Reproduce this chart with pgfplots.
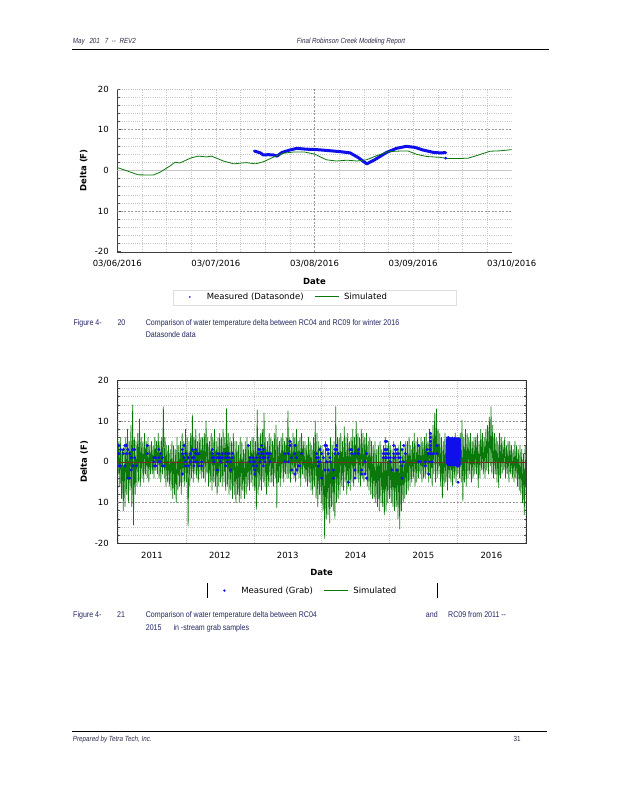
\documentclass[border=0pt]{standalone}
\usepackage{fontspec}
\setmainfont{DejaVu Sans}
\newfontfamily\capfont{Liberation Sans}[FakeStretch=0.85]
\usepackage{pgfplots}
\pgfplotsset{compat=1.18}
\usepackage{pgfplotstable}
\definecolor{simgreen}{RGB}{10,120,10}
\definecolor{measblue}{RGB}{15,15,235}
\definecolor{capcol}{RGB}{35,40,100}
\definecolor{hdrcol}{RGB}{45,45,75}
\definecolor{zeroline}{RGB}{115,45,35}
\tikzset{gridminor/.style={gray!50, dash pattern=on 1pt off 1.2pt, line width=0.4pt},
         gridmajor/.style={gray!80, dash pattern=on 2pt off 1.5pt, line width=0.5pt},
         hdr/.style={font=\capfont\itshape\fontsize{7.4}{9}\selectfont, text=hdrcol, inner sep=0pt, anchor=base west},
         captxt/.style={font=\capfont\fontsize{8.3}{10}\selectfont, text=capcol, inner sep=0pt, anchor=base west}}
\pgfplotsset{chartbase/.style={
    scale only axis,
    ymin=-20, ymax=20,
    ytick={-20,-10,0,10,20}, yticklabels={-20,10,0,10,20},
    minor y tick num=4,
    tick label style={font=\fontsize{8.5}{10}\selectfont},
    yticklabel style={anchor=east, xshift=-5pt},
    every axis x label/.style={at={(axis description cs:0.5,-0.18)}, anchor=center, font=\bfseries\fontsize{8.5}{10}\selectfont},
    tick align=inside, major tick length=4pt, minor tick length=2.5pt,
    tick style={black!70, line width=0.5pt},
    xtick style={draw=none},
    minor grid style={gray!45, dash pattern=on 1pt off 1.2pt, line width=0.4pt},
    legend style={draw=none, fill=none, font=\fontsize{8.5}{10}\selectfont, legend columns=2,
                  /tikz/every even column/.append style={column sep=9pt}},
    legend cell align=left,
}}

% Chart 1: simulated (days after 03/06/2016 00:00)
\pgfplotstableread[row sep=\\]{x y\\
0 0.7\\ 0.095 -0.1\\ 0.21 -1.1\\ 0.365 -1.15\\ 0.43 -0.5\\ 0.53 1.0\\ 0.585 2.0\\ 0.635 1.8\\
0.74 3.0\\ 0.82 3.5\\ 0.905 3.3\\ 0.955 3.5\\ 1.075 2.3\\ 1.18 1.6\\ 1.26 1.8\\ 1.31 1.9\\
1.40 1.6\\ 1.48 2.1\\ 1.58 3.2\\ 1.68 4.2\\ 1.785 4.5\\ 1.90 4.5\\ 2.0 4.0\\ 2.12 2.6\\
2.22 2.3\\ 2.33 2.5\\ 2.43 2.3\\ 2.53 2.6\\ 2.63 3.6\\ 2.75 4.6\\ 2.87 4.75\\ 2.95 4.75\\
3.04 3.9\\ 3.14 3.4\\ 3.27 3.2\\ 3.36 2.9\\ 3.46 2.9\\ 3.56 3.0\\ 3.68 3.9\\ 3.78 4.7\\
3.88 4.8\\ 4.0 5.1\\}\simA
% Chart 1: measured (datasonde)
\pgfplotstableread[row sep=\\]{x y\\
1.39 4.75\\ 1.45 4.3\\ 1.48 3.8\\ 1.53 3.85\\ 1.58 3.8\\ 1.62 3.5\\ 1.67 4.4\\ 1.75 5.0\\
1.82 5.4\\ 1.92 5.2\\ 2.02 5.1\\ 2.12 4.9\\ 2.26 4.6\\ 2.36 4.3\\ 2.44 3.2\\ 2.53 1.6\\
2.61 2.6\\ 2.73 4.4\\ 2.83 5.4\\ 2.93 5.9\\ 3.02 5.65\\ 3.10 5.0\\ 3.21 4.4\\ 3.27 4.3\\
3.33 4.35\\}\measA

% Chart 2: simulated, evenly spaced samples from mid-2010 to mid-2016
\pgfplotstableread[row sep=\\]{y\\
10\\ -3\\ 5\\ -6\\ 6\\ -9\\ 3\\ -12\\ 4\\ -11\\ 6\\ -8\\ 8\\ -10\\ 5\\ -7\\ 9\\ -11\\ 14\\ -15.5\\
6\\ -8\\ 5\\ -6\\ 7\\ -5\\ 10.5\\ -6\\ 6\\ -4\\ 5\\ -5\\ 7\\ -3\\ 5\\ -4\\ 6\\ -5\\ 4\\ -3\\
5\\ -3\\ 4\\ -4\\ 6\\ -2\\ 5\\ -3\\ 7\\ -4\\ 5\\ -5\\ 6\\ -3\\ 13.5\\ -4\\ 6\\ -6\\ 4\\ -5\\
4\\ -6\\ 3\\ -7\\ 5\\ -9\\ 4\\ -8\\ 3\\ -10\\ 6\\ -7\\ 4\\ -6\\ 5\\ -8\\ 7\\ -5\\ 5\\ -6\\
8\\ -5\\ 6\\ -15.8\\ 5\\ -6\\ 7\\ -4\\ 11.5\\ -5\\ 6\\ -3\\ 8\\ -4\\ 5\\ -5\\ 7\\ -3\\ 6\\ -4\\
6\\ -4\\ 7\\ -5\\ 10\\ -3\\ 6\\ -6\\ 5\\ -5\\ 7\\ -7\\ 6\\ -5\\ 8\\ -6\\ 5\\ -8\\ 6\\ -6\\
7\\ -5\\ 6\\ -6\\ 8\\ -5\\ 6\\ -7\\ 13\\ -6\\ 7\\ -8\\ 6\\ -7\\ 5\\ -9\\ 7\\ -8\\ 5\\ -10\\
5\\ -8\\ 4\\ -10\\ 6\\ -9\\ 5\\ -7\\ 3\\ -9\\ 5\\ -8\\ 6\\ -6\\ 4\\ -7\\ 5\\ -5\\ 6\\ -6\\
6\\ -7\\ 5\\ -11.7\\ 12.7\\ -8\\ 6\\ -6\\ 7\\ -7\\ 8\\ -5\\ 12\\ -6\\ 6\\ -8\\ 5\\ -6\\ 7\\ -5\\
6\\ -5\\ 5\\ -6\\ 7\\ -4\\ 9\\ -11.3\\ 6\\ -5\\ 5\\ -6\\ 6\\ -4\\ 7\\ -5\\ 5\\ -3\\ 6\\ -4\\
12.5\\ -4\\ 6\\ -5\\ 5\\ -3\\ 7\\ -4\\ 6\\ -5\\ 8\\ -3\\ 5\\ -4\\ 6\\ -6\\ 7\\ -3\\ 5\\ -4\\
5\\ -5\\ 4\\ -6\\ 6\\ -5\\ 5\\ -7\\ 4\\ -8\\ 6\\ -6\\ 10\\ -9\\ 7\\ -11\\ 5\\ -8\\ 4\\ -10\\
4\\ -12\\ 3\\ -18.8\\ 5\\ -14\\ 4\\ -13\\ 3\\ -15\\ 6\\ -11\\ 4\\ -12\\ 5\\ -14\\ 13.5\\ -10\\ 6\\ -9\\
6\\ -8\\ 7\\ -6\\ 5\\ -7\\ 8.6\\ -5\\ 6\\ -8\\ 7\\ -6\\ 5\\ -7\\ 6\\ -5\\ 8\\ -6\\ 6\\ -4\\
9.8\\ -4\\ 7\\ -5\\ 6\\ -6\\ 8\\ -4\\ 7\\ -5\\ 6\\ -3\\ 7\\ -6\\ 5\\ -7\\ 6\\ -8\\ 5\\ -9\\
4\\ -9\\ 5\\ -10\\ 3\\ -11\\ 4\\ -12\\ 5\\ -10\\ 3\\ -11\\ 4\\ -13\\ 6\\ -12\\ 4\\ -10\\ 5\\ -9\\
4\\ -10\\ 3\\ -11\\ 5\\ -12\\ 4\\ -11\\ 3\\ -14\\ 4\\ -16.5\\ 5\\ -12\\ 3\\ -10\\ 4\\ -9\\ 5\\ -8\\
5\\ -7\\ 6\\ -6\\ 4\\ -5\\ 5\\ -4\\ 7\\ -6\\ 5\\ -5\\ 6\\ -4\\ 4\\ -3\\ 6\\ -5\\ 5\\ -4\\
6\\ -4\\ 7\\ -3\\ 5\\ -5\\ 8\\ -4\\ 7\\ -6\\ 9\\ -3\\ 12\\ -5\\ 13\\ -4\\ 8\\ -3\\ 7\\ -6\\
6\\ -8.9\\ 5\\ -6\\ 7\\ -5\\ 6\\ -7\\ 4\\ -4\\ 5\\ -5\\ 6\\ -6\\ 5\\ -4\\ 7\\ -5\\ 6\\ -3\\
6\\ -4\\ 7\\ -5\\ 10.2\\ -9.7\\ 6\\ -5\\ 8\\ -6\\ 7\\ -4\\ 6\\ -3\\ 7\\ -5\\ 5\\ -4\\ 6\\ -3\\
6\\ -3\\ 7\\ -6.4\\ 5\\ -4\\ 8\\ -2\\ 7\\ -3\\ 6\\ -4\\ 8\\ -2\\ 9\\ -3\\ 11\\ -1\\ 13.5\\ -3\\
9\\ -4\\ 7\\ -3\\ 6\\ -5\\ 5\\ -6.4\\ 7\\ -4\\ 6\\ -3\\ 5\\ -2\\ 6\\ -4\\ 4\\ -3\\ 5\\ -5\\
5\\ -3\\ 4\\ -4\\ 3\\ -5\\ 5\\ -4\\ 4\\ -6\\ 3\\ -7\\ 4\\ -8\\ 3\\ -10\\ 2\\ -13\\ 4\\ -8\\
}\simB

\pgfplotstableread[row sep=\\]{p v\\
176 4\\ 176 2\\ 176 -1\\ 181 -1\\ 181 3\\ 189 3\\ 189 2\\ 194 4\\ 194 -1\\ 198 4\\ 198 2\\
203 3\\ 203 -4\\ 208 2\\ 208 -4\\ 213 1\\ 213 -2\\ 218 3\\ 218 -1\\ 223 3\\ 223 1\\ 228 -1\\
261 4\\ 261 2\\ 281 1\\ 281 0\\ 281 -1\\ 286 1\\ 286 -1\\ 296 3\\ 296 1\\ 296 0\\ 301 2\\ 301 0\\
306 1\\ 306 -1\\ 311 -1\\ 366 3\\ 366 2\\ 366 -3\\ 371 4\\ 371 1\\ 376 2\\ 376 0\\ 376 -1\\
384 1\\ 384 -1\\ 391 2\\ 391 0\\ 396 1\\ 396 3\\ 401 1\\ 401 0\\ 401 -1\\ 406 2\\ 406 3\\ 406 0\\
411 2\\ 411 0\\ 416 2\\ 416 -1\\ 424 0\\ 424 -1\\ 456 3\\ 456 2\\ 456 1\\ 461 1\\ 461 0\\
471 2\\ 471 1\\ 471 -2\\ 476 2\\ 476 1\\ 481 1\\ 481 0\\ 486 2\\ 486 1\\ 496 2\\ 496 1\\ 496 -1\\
501 2\\ 501 1\\ 501 0\\ 506 2\\ 506 1\\ 511 0\\ 511 -2\\ 516 2\\ 516 1\\ 564 4\\ 569 1\\ 569 0\\
579 1\\ 579 0\\ 579 -1\\ 584 0\\ 584 -2\\ 584 -3\\ 589 1\\ 589 -1\\ 594 3\\ 594 2\\ 599 3\\ 599 1\\
599 0\\ 604 4\\ 604 2\\ 609 3\\ 609 2\\ 609 1\\ 609 -1\\ 614 1\\ 614 0\\ 619 2\\ 624 2\\ 624 1\\
629 2\\ 629 0\\ 674 2\\ 674 0\\ 684 2\\ 684 0\\ 689 5\\ 689 4\\ 694 1\\ 694 -2\\ 704 4\\ 704 2\\
704 -3\\ 709 1\\ 709 -2\\ 714 -1\\ 719 -1\\ 724 2\\ 769 2\\ 769 1\\ 774 1\\ 774 0\\ 774 -1\\
779 3\\ 779 0\\ 784 2\\ 784 -4\\ 789 1\\ 794 4\\ 794 -2\\ 799 4\\ 799 3\\ 799 0\\ 804 3\\ 804 2\\
804 -2\\ 809 1\\ 809 0\\ 819 -2\\ 819 -4\\ 824 3\\ 824 2\\ 829 4\\ 829 3\\ 834 2\\ 864 -5\\
869 3\\ 874 3\\ 874 2\\ 884 2\\ 884 -2\\ 884 -4\\ 894 3\\ 894 2\\ 904 -2\\ 904 -3\\ 914 0\\
914 -3\\ 919 2\\ 919 -4\\ 969 2\\ 969 1\\ 974 3\\ 974 2\\ 975 5\\ 975 3\\ 975 1\\ 979 5\\ 979 1\\
980 3\\ 980 2\\ 985 2\\ 985 1\\ 990 1\\ 990 0\\ 995 -2\\ 1000 4\\ 1000 2\\ 1000 1\\ 1005 3\\
1005 1\\ 1010 3\\ 1010 2\\ 1010 -2\\ 1015 1\\ 1015 2\\ 1020 1\\ 1020 0\\ 1025 3\\ 1025 -1\\
1025 -4\\ 1030 4\\ 1030 0\\ 1035 2\\ 1075 4\\ 1075 0\\ 1080 0\\ 1095 0\\ 1095 -1\\ 1100 3\\
1103 2\\ 1105 2\\ 1105 -3\\ 1108 0\\ 1108 3\\ 1110 7\\ 1110 6\\ 1110 5\\ 1110 4\\ 1110 3\\
1110 2\\ 1115 2\\ 1115 0\\ 1120 2\\ 1130 4\\ 1130 2\\ 1190 -1\\ 1195 -1\\ 1193 -5\\
}\grabB
% Chart 2: dense measured cluster (many samples, drawn as a dense trace)
\pgfplotstableread[row sep=\\]{p v\\
1158 5.5\\ 1159 -0.5\\ 1160 6.2\\ 1161 -1\\ 1162 6\\ 1163 -1\\ 1164 6.3\\ 1165 -0.8\\ 1166 6\\
1167 -1\\ 1168 6.1\\ 1169 -1\\ 1170 6\\ 1171 -0.9\\ 1172 5.8\\ 1173 -1\\ 1174 6\\ 1175 -1.1\\
1176 6.2\\ 1177 -1\\ 1178 6\\ 1179 -1\\ 1180 5.9\\ 1181 -0.9\\ 1182 6\\ 1183 -1\\ 1184 6.1\\
1185 -1\\ 1186 6\\ 1187 -1.1\\ 1188 5.8\\ 1189 -1\\ 1190 6\\ 1191 -1\\ 1192 6\\ 1193 -1\\
1194 5.9\\ 1195 -1\\ 1196 5.8\\ 1197 -0.9\\ 1198 6\\ 1199 -1\\ 1200 5.6\\
}\denseB

\begin{document}
\begin{tikzpicture}
\path[use as bounding box, fill=white] (0pt,0pt) rectangle (618pt,-800pt);

% ---------- header ----------
\node[hdr] at (72.7pt,-44pt) {May};
\node[hdr] at (89.3pt,-44pt) {201};
\node[hdr] at (104.7pt,-44pt) {7};
\node[hdr] at (111.5pt,-44pt) {--};
\node[hdr] at (119.3pt,-44pt) {REV2};
\node[hdr, anchor=base] at (351pt,-44pt) {Final Robinson Creek Modeling Report};
\draw[line width=0.9pt] (72pt,-49pt) -- (549pt,-49pt);

% ---------- chart 1 ----------
\begin{axis}[chartbase,
  at={(117.3pt,-251.7pt)}, anchor=south west,
  width=394.4pt, height=162.7pt,
  axis lines*=left, axis line style={black!75, -},
  xmin=0, xmax=4,
  xtick={0,1,2,3,4},
  xticklabels={03/06/2016,03/07/2016,03/08/2016,03/09/2016,03/10/2016},
  xticklabel style={anchor=center, yshift=-12.3pt},
  minor x tick num=3,
  grid=minor,
  xlabel={Date}, ylabel={Delta (F)},
  every axis y label/.style={at={(axis description cs:-0.085,0.5)}, rotate=90, anchor=center, font=\bfseries\fontsize{8.5}{10}\selectfont},
  legend style={at={(axis description cs:0.163,-0.278)}, anchor=west},
]
\draw[gridminor] (axis cs:1,-20) -- (axis cs:1,20);
\draw[gridminor] (axis cs:3,-20) -- (axis cs:3,20);
\draw[gridmajor] (axis cs:2,-20) -- (axis cs:2,20);
\draw[gridmajor] (axis cs:0,10) -- (axis cs:4,10);
\draw[gridmajor] (axis cs:0,-10) -- (axis cs:4,-10);
\draw[gridminor] (axis cs:0,20) -- (axis cs:4,20);
\draw[gray!45, line width=0.6pt] (axis cs:0,0) -- (axis cs:4,0);
\addlegendimage{legend image code/.code={\path[draw=none, fill=none] (0pt,-3pt) rectangle (20pt,3pt);\fill[measblue, draw=none] (5pt,0pt) circle (0.9pt);}}
\addlegendentry{Measured (Datasonde)}
\addlegendimage{legend image code/.code={\path[draw=none, fill=none] (0pt,-3pt) rectangle (27pt,3pt);\draw[simgreen, line width=0.9pt] (0pt,0pt) -- (24pt,0pt);}}
\addlegendentry{Simulated}
\addplot[measblue, line width=3pt, line join=round, line cap=round, forget plot]
  table[x=x, y=y] {\measA};
\addplot[simgreen, line width=0.8pt, line join=round, forget plot] table[x=x, y=y] {\simA};
\addplot[measblue, only marks, mark=*, mark size=1.2pt, forget plot] coordinates {(3.33,3.0)};
\end{axis}
\draw[gray!25, line width=0.5pt] (173pt,-290pt) rectangle (456pt,-305pt);

% caption 1
\node[captxt] at (73.3pt,-325pt) {Figure 4-};
\node[captxt] at (117.3pt,-325pt) {20};
\node[captxt] at (145.7pt,-325pt) {Comparison of water temperature delta between RC04 and RC09 for winter 2016};
\node[captxt] at (145.7pt,-337.5pt) {Datasonde data};

% ---------- chart 2 ----------
\begin{axis}[chartbase,
  at={(117.3pt,-543.3pt)}, anchor=south west,
  width=408.7pt, height=163pt,
  axis line style={black!80},
  xmin=2010.49, xmax=2016.51,
  xtick={2011,2012,2013,2014,2015,2016},
  xticklabels={2011,2012,2013,2014,2015,2016},
  xticklabel style={anchor=center, yshift=-11.7pt},
  minor xtick={2010.5,2011.5,2012.5,2013.5,2014.5,2015.5,2016.5},
  xminorgrids=true, yminorgrids=true,
  xlabel={Date}, ylabel={Delta (F)},
  every axis y label/.style={at={(axis description cs:-0.081,0.5)}, rotate=90, anchor=center, font=\bfseries\fontsize{8.5}{10}\selectfont},
  legend style={at={(axis description cs:0.242,-0.29)}, anchor=west},
]
\draw[gridmajor] (axis cs:2010.49,10) -- (axis cs:2016.51,10);
\draw[gridmajor] (axis cs:2010.49,-10) -- (axis cs:2016.51,-10);
\addlegendimage{legend image code/.code={\path[draw=none, fill=none] (0pt,-3pt) rectangle (20pt,3pt);\fill[measblue, draw=none] (5pt,0pt) circle (1.3pt);}}
\addlegendentry{Measured (Grab)}
\addlegendimage{legend image code/.code={\path[draw=none, fill=none] (0pt,-3pt) rectangle (27pt,3pt);\draw[simgreen, line width=0.9pt] (0pt,0pt) -- (24pt,0pt);}}
\addlegendentry{Simulated}
\addplot[simgreen, line width=0.7pt, line join=round, forget plot] table[x expr={2010.49+\coordindex*0.012568}, y=y] {\simB};
\draw[zeroline, line width=0.6pt] (axis cs:2010.49,0) -- (axis cs:2016.51,0);
\addplot[measblue, only marks, mark=*, mark size=1.3pt, forget plot]
  table[x expr={2011+(\thisrow{p}-275)/203.6}, y=v] {\grabB};
\addplot[measblue, line width=1.2pt, forget plot]
  table[x expr={2011+(\thisrow{p}-275)/203.6}, y=v] {\denseB};
\end{axis}
\draw[black, line width=0.8pt] (207pt,-583pt) -- (207pt,-598pt);
\draw[black, line width=0.8pt] (437pt,-583pt) -- (437pt,-598pt);

% caption 2
\node[captxt] at (73pt,-617.5pt) {Figure 4-};
\node[captxt] at (117pt,-617.5pt) {21};
\node[captxt] at (145.7pt,-617.5pt) {Comparison of water temperature delta between RC04};
\node[captxt] at (425.7pt,-617.5pt) {and};
\node[captxt] at (448pt,-617.5pt) {RC09 from 2011 --};
\node[captxt] at (145.7pt,-630.5pt) {2015};
\node[captxt] at (173.3pt,-630.5pt) {in -stream grab samples};

% ---------- footer ----------
\draw[line width=0.9pt] (72pt,-731pt) -- (547pt,-731pt);
\node[hdr] at (72.7pt,-741pt) {Prepared by Tetra Tech, Inc.};
\node[hdr, font=\capfont\fontsize{7.4}{9}\selectfont, anchor=base east] at (520.7pt,-741pt) {31};
\end{tikzpicture}
\end{document}
